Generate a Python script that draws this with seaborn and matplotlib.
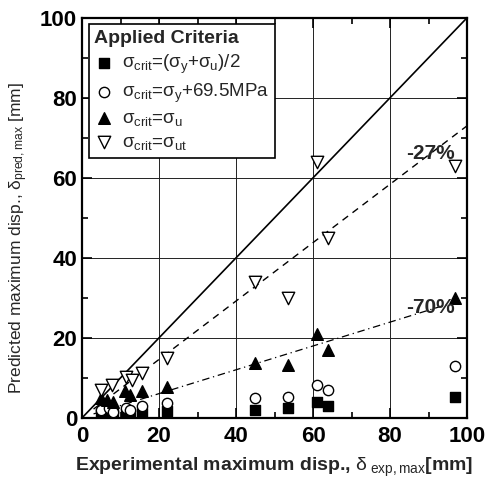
import matplotlib
matplotlib.use("Agg")
import matplotlib.pyplot as plt
import seaborn as sns
import pandas as pd

# ---- data ----
sq_x = [5, 7, 8, 11.5, 12.5, 15.5, 22, 45, 53.5, 61, 64, 97]
sq_y = [1, 1.5, 1, 1, 0.8, 1.2, 1.6, 2, 2.5, 4, 3, 5.2]
ci_x = [5, 7, 8, 11.5, 12.5, 15.5, 22, 45, 53.5, 61, 64, 97]
ci_y = [2, 2.5, 1.5, 2.5, 2, 3, 3.6, 5, 5.3, 8.2, 7, 13]
tu_x = [5, 6.5, 8, 11.2, 12.5, 15.5, 22, 45, 53.5, 61, 64, 97]
tu_y = [5, 4.5, 4, 6.6, 5.8, 6.6, 7.8, 13.7, 13.2, 21, 17, 30]
td_x = [5, 7.7, 11.5, 13, 15.5, 22, 45, 53.5, 61, 64, 97]
td_y = [7, 8.2, 10.3, 9.5, 11.2, 15, 34, 30, 64, 45, 63]

line_ref_x = [0, 100]
line_ref_y = [0, 100]
line27_x = [3, 100]
line27_y = [2.2, 73]
line70_x = [3, 97]
line70_y = [1.0, 29]

labels = [r"$\sigma_{\rm crit}$=($\sigma_{\rm y}$+$\sigma_{\rm u}$)/2",
          r"$\sigma_{\rm crit}$=$\sigma_{\rm y}$+69.5MPa",
          r"$\sigma_{\rm crit}$=$\sigma_{\rm u}$",
          r"$\sigma_{\rm crit}$=$\sigma_{\rm ut}$"]
x_ticks = [0, 20, 40, 60, 80, 100]
y_ticks = [0, 20, 40, 60, 80, 100]

sns.set_theme(style="ticks")
plt.rcParams['font.family'] = ['Liberation Sans', 'DejaVu Sans']
plt.rcParams['mathtext.fontset'] = 'custom'
plt.rcParams['mathtext.rm'] = 'Liberation Sans'
plt.rcParams['mathtext.it'] = 'Liberation Sans'
plt.rcParams['mathtext.bf'] = 'Liberation Sans:bold'

fig = plt.figure(figsize=(5.0, 4.82), dpi=100)
ax = fig.add_axes([0.164, 0.133, 0.770, 0.830])

# grid
for v in [20, 40, 60, 80]:
    ax.axvline(v, color='#222222', lw=0.7, zorder=0)
    ax.axhline(v, color='#222222', lw=0.7, zorder=0)

# lines
sns.lineplot(x=line_ref_x, y=line_ref_y, ax=ax, color='black', lw=1.2, zorder=2)
sns.lineplot(x=line27_x, y=line27_y, ax=ax, color='black', lw=1.0, zorder=2,
             linestyle=(0, (5, 4)))
sns.lineplot(x=line70_x, y=line70_y, ax=ax, color='black', lw=0.9, zorder=2,
             linestyle=(0, (6, 3, 1, 3)))

series = [
    (sq_x, sq_y, 's', 'black', 45),
    (ci_x, ci_y, 'o', 'white', 55),
    (tu_x, tu_y, '^', 'black', 70),
    (td_x, td_y, 'v', 'white', 80),
]
for (xs, ys, m, fc, s), lab in zip(series, labels):
    sns.scatterplot(x=xs, y=ys, ax=ax, marker=m, s=s, facecolor=fc,
                    edgecolor='black', linewidth=1.0, label=lab, zorder=3)

ax.text(90.5, 66, "-27%", fontsize=15, fontweight='bold', ha='center', va='center')
ax.text(90.5, 27.5, "-70%", fontsize=15, fontweight='bold', ha='center', va='center')

ax.set_xlim(0, 100)
ax.set_ylim(0, 100)
ax.set_xticks(x_ticks)
ax.set_yticks(y_ticks)
ax.set_xticks(range(10, 100, 20), minor=True)
ax.set_yticks(range(10, 100, 20), minor=True)
ax.tick_params(which='both', direction='in', top=True, right=True, width=1.2,
               colors='black', labelsize=16)
ax.tick_params(which='major', length=7)
ax.tick_params(which='minor', length=4)
ax.tick_params(axis='x', pad=6)
for lbl in ax.get_xticklabels() + ax.get_yticklabels():
    lbl.set_fontweight('bold')
for sp in ax.spines.values():
    sp.set_linewidth(1.6)
    sp.set_color('black')

ax.set_xlabel(r"Experimental maximum disp., $\delta_{\rm\ exp,max}$[mm]",
              fontsize=14, fontweight='bold', labelpad=6)
ax.set_ylabel(r"Predicted maximum disp., $\delta_{\rm pred,max}$ [mm]",
              fontsize=12.5)
ax.yaxis.set_label_coords(-0.135, 0.45)

leg = ax.legend(loc='upper left', title="Applied Criteria", fontsize=13.5,
                title_fontsize=14, frameon=True, fancybox=False,
                borderpad=0.3, labelspacing=0.3, handletextpad=0.5,
                handlelength=1.0, borderaxespad=0.35)
leg.get_title().set_fontweight('bold')
leg.get_frame().set_edgecolor('black')
leg.get_frame().set_linewidth(1.2)
leg.get_frame().set_alpha(1)
leg._legend_box.align = "left"

fig.savefig("out.png", dpi=100)
